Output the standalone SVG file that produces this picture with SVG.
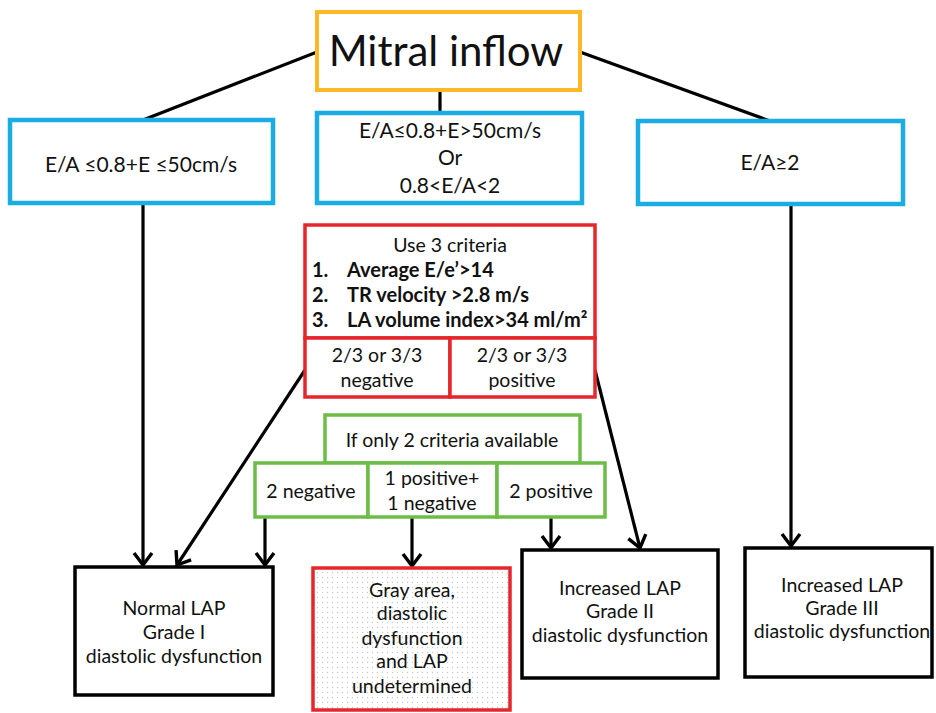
<svg xmlns="http://www.w3.org/2000/svg" width="936" height="713" viewBox="0 0 936 713">
<defs>
<style>
text{font-family:Lato,"Open Sans","Liberation Sans",sans-serif;fill:#111;text-anchor:middle;font-size:19.5px}
.b{font-weight:bold;text-anchor:start;font-size:20px}
.c{font-size:21px}
.or{fill:#fff;stroke:#FDB825;stroke-width:4}
.bl{fill:#fff;stroke:#1AADE4;stroke-width:4.5}
.rd{fill:#fff;stroke:#E5262B;stroke-width:3.5}
.gr{fill:#fff;stroke:#6CBD45;stroke-width:3.5}
.bk{fill:#fff;stroke:#000;stroke-width:3.5}
.ln{stroke:#000;stroke-width:3.2;fill:none}
.ar{stroke:#000;stroke-width:3.2;fill:none;marker-end:url(#ah)}
</style>
<marker id="ah" markerUnits="userSpaceOnUse" markerWidth="24" markerHeight="24" refX="14" refY="11" orient="auto" viewBox="0 0 24 24">
<path d="M2,2 L14,11 L2,20" fill="none" stroke="#000" stroke-width="3.4"/>
</marker>
<pattern id="dots" width="5" height="5" patternUnits="userSpaceOnUse">
<rect width="5" height="5" fill="#fff"/>
<circle cx="2.5" cy="2.5" r="0.7" fill="#c8c8c8"/>
</pattern>
</defs>
<rect width="936" height="713" fill="#fff"/>
<g id="connectors">
<line class="ln" x1="317" y1="52" x2="143" y2="120"/>
<line class="ln" x1="580" y1="52" x2="770" y2="121"/>
<line class="ln" x1="440" y1="90" x2="440" y2="113"/>
<line class="ar" x1="143" y1="204" x2="143" y2="565"/>
<line class="ar" x1="305" y1="370" x2="177" y2="565"/>
<line class="ar" x1="595" y1="370" x2="640" y2="548"/>
<line class="ar" x1="791" y1="204" x2="791" y2="546"/>
<line class="ar" x1="265" y1="517" x2="265" y2="565"/>
<line class="ar" x1="412" y1="517" x2="412" y2="566"/>
<line class="ar" x1="551" y1="517" x2="551" y2="548"/>
</g>
<g id="mitral">
<rect class="or" x="317" y="12" width="263" height="78"/>
<text x="446" y="66" style="font-size:42px">Mitral inflow</text>
</g>
<g id="left-cond">
<rect class="bl" x="10" y="120" width="263" height="83"/>
<text class="c" x="141" y="172">E/A ≤0.8+E ≤50cm/s</text>
</g>
<g id="mid-cond">
<rect class="bl" x="317" y="113" width="265" height="90"/>
<text class="c" x="450" y="138">E/A≤0.8+E&gt;50cm/s</text>
<text class="c" x="450" y="165">Or</text>
<text class="c" x="450" y="193">0.8&lt;E/A&lt;2</text>
</g>
<g id="right-cond">
<rect class="bl" x="638" y="121" width="265" height="83"/>
<text class="c" x="770" y="170">E/A≥2</text>
</g>
<g id="criteria">
<rect class="rd" x="305" y="225" width="290" height="113"/>
<text x="450" y="252">Use 3 criteria</text>
<text class="b" x="312" y="277">1.</text>
<text class="b" x="347" y="277">Average E/e’&gt;14</text>
<text class="b" x="312" y="302">2.</text>
<text class="b" x="347" y="302">TR velocity &gt;2.8 m/s</text>
<text class="b" x="312" y="327">3.</text>
<text class="b" x="347" y="327">LA volume index&gt;34 ml/m²</text>
</g>
<g id="neg3">
<rect class="rd" x="305" y="338" width="145" height="59"/>
<text x="377" y="362">2/3 or 3/3</text>
<text x="377" y="387">negative</text>
</g>
<g id="pos3">
<rect class="rd" x="450" y="338" width="145" height="59"/>
<text x="522" y="362">2/3 or 3/3</text>
<text x="522" y="387">positive</text>
</g>
<g id="only2">
<rect class="gr" x="325" y="415" width="255" height="48"/>
<text x="452" y="447">If only 2 criteria available</text>
</g>
<g id="neg2">
<rect class="gr" x="255" y="463" width="113" height="54"/>
<text x="311" y="498">2 negative</text>
</g>
<g id="mixed">
<rect class="gr" x="368" y="463" width="129" height="54"/>
<text x="432" y="485">1 positive+</text>
<text x="432" y="510">1 negative</text>
</g>
<g id="pos2">
<rect class="gr" x="497" y="463" width="108" height="54"/>
<text x="551" y="498">2 positive</text>
</g>
<g id="normal">
<rect class="bk" x="75" y="567" width="198" height="128"/>
<text x="174" y="615">Normal LAP</text>
<text x="174" y="639">Grade I</text>
<text x="174" y="663">diastolic dysfunction</text>
</g>
<g id="gray">
<rect x="313" y="568" width="197" height="142" fill="url(#dots)" stroke="#E5262B" stroke-width="3.5"/>
<text x="412" y="597">Gray area,</text>
<text x="412" y="620">diastolic</text>
<text x="412" y="645">dysfunction</text>
<text x="412" y="668">and LAP</text>
<text x="412" y="693">undetermined</text>
</g>
<g id="grade2">
<rect class="bk" x="522" y="550" width="196" height="128"/>
<text x="620" y="595">Increased LAP</text>
<text x="620" y="618">Grade II</text>
<text x="620" y="642">diastolic dysfunction</text>
</g>
<g id="grade3">
<rect class="bk" x="745" y="548" width="187" height="129"/>
<text x="842" y="592">Increased LAP</text>
<text x="842" y="615">Grade III</text>
<text x="842" y="638">diastolic dysfunction</text>
</g>
</svg>
